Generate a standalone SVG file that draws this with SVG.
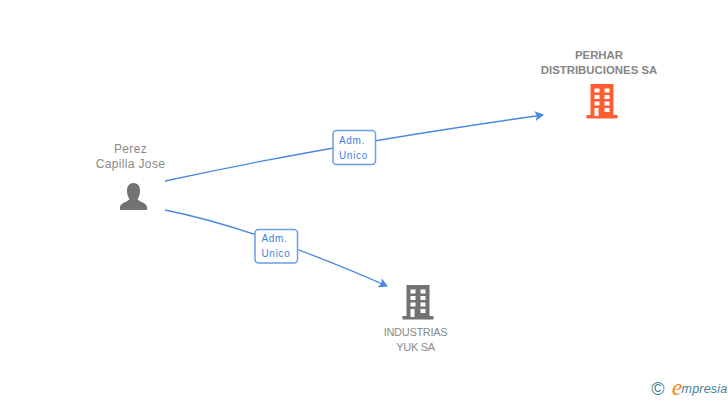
<svg xmlns="http://www.w3.org/2000/svg" width="728" height="400" viewBox="0 0 728 400">
<style>
text{font-family:"Liberation Sans",Arial,sans-serif;font-size:12px;fill:#8a8a8a;text-anchor:middle}
.p{letter-spacing:.35px}
.b{font-weight:bold;fill:#858585;font-size:11.400px}
.n{font-size:11px;letter-spacing:-.3px}
.l{font-size:10px;fill:#3f7fdc;letter-spacing:.7px}
.e{fill:none;stroke:#4a88e0;stroke-width:1.300}
.box{fill:#fff;stroke:#6a9ee8;stroke-width:1.500}
</style>
<defs>
<marker id="a" markerWidth="11" markerHeight="12" refX="8" refY="5" orient="auto" markerUnits="userSpaceOnUse"><path d="M0 0L9 5L0 10L2 5Z" fill="#4a88e0"/></marker>
<g id="bld">
<path d="M-11.500 -17H11.500V14H15.500V17.500H-15.500V14H-11.500Z"/>
<g fill="#fff"><rect x="-7.500" y="-12.500" width="5" height="4"/><rect x="2.500" y="-12.500" width="5" height="4"/><rect x="-7.500" y="-6" width="5" height="4"/><rect x="2.500" y="-6" width="5" height="4"/><rect x="-7.500" y="0.500" width="5" height="4"/><rect x="2.500" y="0.500" width="5" height="4"/><rect x="-7.500" y="7" width="4" height="8"/><rect x="2.500" y="7" width="5" height="4"/></g>
</g>
</defs>
<g id="connectors">
<path class="e" d="M165 181Q330 145 543 115" marker-end="url(#a)"/>
<path class="e" d="M165 210Q255 228 387 286" marker-end="url(#a)"/>
</g>
<g id="person"><text class="p" x="130.500" y="153">Perez</text><text class="p" x="130.500" y="168">Capilla Jose</text>
<path fill="#727272" d="M133.500 183C138.500 183 140 187 140 191C140 195 138.500 197.500 137.500 199C139 202 147 202.500 147 207.500V210H120V207.500C120 202.500 128 202 129.500 199C128.500 197.500 127 195 127 191C127 187 128.500 183 133.500 183Z"/></g>
<g id="perhar"><text class="b" x="599" y="58.500">PERHAR</text><text class="b" x="599" y="73.500">DISTRIBUCIONES SA</text><use href="#bld" x="602" y="101" fill="#ff5e33"/></g>
<g id="industrias"><text class="n" x="415.500" y="336">INDUSTRIAS</text><text class="n" x="415.500" y="351">YUK SA</text><use href="#bld" x="418" y="302" fill="#727272"/></g>
<g id="label1"><rect class="box" x="333" y="130.500" width="42.500" height="34" rx="3.500"/><text class="l" x="352" y="144">Adm.</text><text class="l" x="353.500" y="159">Unico</text></g>
<g id="label2"><rect class="box" x="255" y="229.500" width="42.500" height="33.500" rx="3.500"/><text class="l" x="274.500" y="242">Adm.</text><text class="l" x="276" y="257">Unico</text></g>
<g id="logo"><text x="658" y="395" style="font-size:18px;fill:#3f7f96">©</text>
<text x="677" y="395" style="font-family:'Liberation Serif',serif;font-style:italic;font-size:24px;fill:#f08a1d">e</text>
<text x="704.500" y="393" style="font-style:italic;font-size:12.500px;letter-spacing:.2px;fill:#3f7f96">mpresia</text></g>
</svg>
